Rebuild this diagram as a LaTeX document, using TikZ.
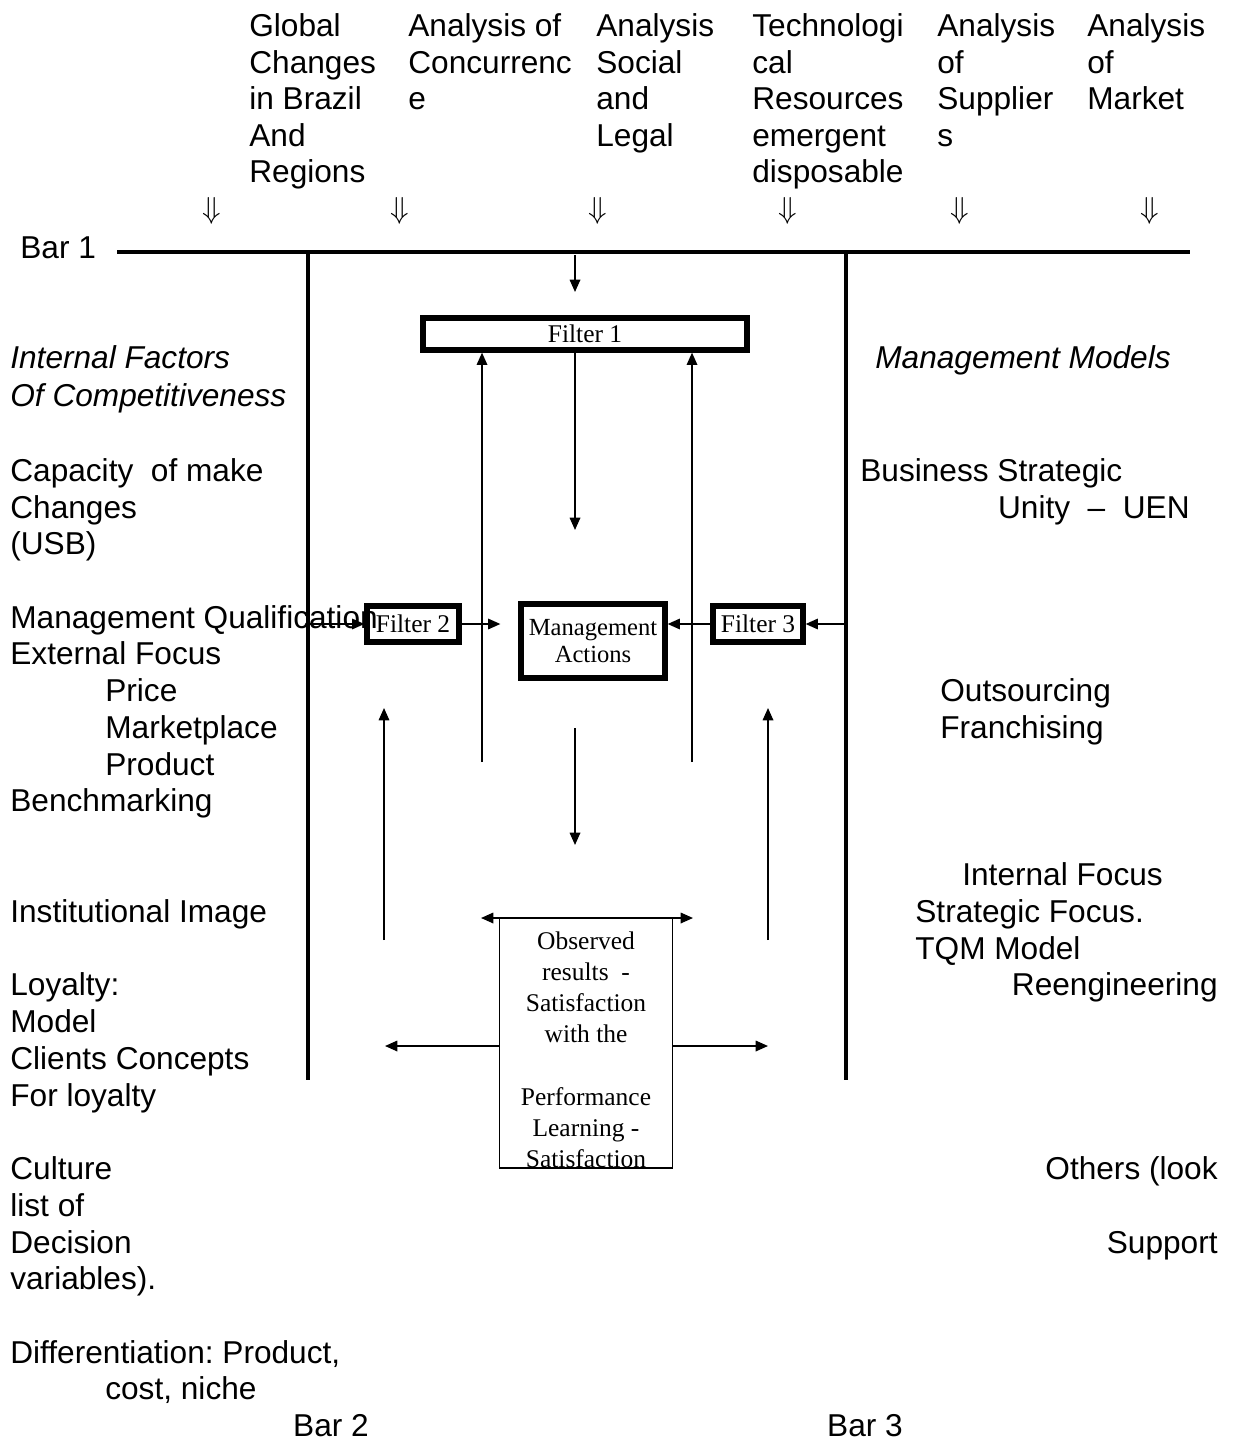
\documentclass[tikz,border=0pt]{standalone}
\usepackage{fontspec}
\setmainfont{Liberation Sans}
\newfontfamily\tnr{Liberation Serif}
\usetikzlibrary{arrows.meta,calc}
\frenchspacing
\tikzset{
  lbl/.style={anchor=base west,inner sep=0pt,font=\fontsize{18}{20.8}\selectfont},
  rlbl/.style={lbl,anchor=base east},
  boxtxt/.style={inner sep=0pt,font=\tnr\fontsize{14.5}{17.6}\selectfont},
  filt/.style={draw,line width=3pt,inner sep=0pt,boxtxt},
  bar/.style={line width=2.8pt},
  arr/.style={line width=0.9pt,-{Triangle[length=7pt,width=6pt]}},
  darr/.style={line width=0.9pt,{Triangle[length=7pt,width=6pt]}-{Triangle[length=7pt,width=6pt]}},
}

\begin{document}
\begin{tikzpicture}[x=0.02cm,y=-0.02cm]
\useasboundingbox (0,0) rectangle (1232,1442);

\foreach \xx/\lst [count=\i] in {249/{Global,Changes,in Brazil,And,Regions},408/{Analysis of,Concurrenc,e},596/{Analysis,Social,and,Legal},752/{Technologi,cal,Resources,emergent,disposable},937/{Analysis,of,Supplier,s},1087/{Analysis,of,Market}}
  \foreach \ln [count=\j] in \lst
    \node[lbl] (top\i-\j) at (\xx,{36.6*\j}) {\ln};
\foreach \xx [count=\i] in {212,400,598,788,960,1150}
  \node[inner sep=0pt] (dn\i) at (\xx,211) {\fontsize{16}{18}\selectfont$\Downarrow$};

\node[lbl] (bar1) at (20,259) {Bar 1};
\coordinate (b1w) at (117,252);
\coordinate (b1e) at (1190,252);
\coordinate (b2t) at (308,252);
\coordinate (b2b) at (308,1080);
\coordinate (b3t) at (846,252);
\coordinate (b3b) at (846,1080);
\draw[bar] (b1w) -- (b1e);
\draw[bar] (b2t) -- (b2b);
\draw[bar] (b3t) -- (b3b);
\node[lbl,anchor=base] (bar2) at (331,1436) {Bar 2};
\node[lbl,anchor=base] (bar3) at (865,1436) {Bar 3};

\node[filt,minimum width=6.48cm,minimum height=0.64cm] (f1) at (585,334) {Filter 1};
\node[filt,minimum width=2.88cm,minimum height=1.48cm,align=center,font=\tnr\fontsize{14}{15.5}\selectfont] (ma) at (593,641) {Management\\Actions};
\node[filt,minimum width=1.84cm,minimum height=0.72cm] (f2) at (413,624) {Filter 2};
\node[filt,minimum width=1.8cm,minimum height=0.72cm] (f3) at (758,624) {Filter 3};
\node[draw,line width=1pt,minimum width=3.46cm,minimum height=5cm,inner sep=0pt] (obs) at (586,1043) {};
\begin{scope}
\clip (obs.north west) rectangle (obs.south east);
\foreach \ln [count=\j] in {Observed,results~~-,Satisfaction,with the,{},Performance,Learning -,Satisfaction}
  \node[boxtxt,anchor=base] (obs\j) at (586,{918.5+31.1*\j}) {\ln};
\end{scope}

\coordinate (a1) at (575,255);
\coordinate (a1e) at (575,292);
\coordinate (a2e) at (575,530);
\coordinate (u1) at (482,762);
\coordinate (u2) at (692,762);
\coordinate (d1) at (575,728);
\coordinate (d1e) at (575,845);
\coordinate (v1) at (384,940);
\coordinate (v1e) at (384,708);
\coordinate (v2) at (768,940);
\coordinate (v2e) at (768,708);
\coordinate (t1) at (481,918);
\coordinate (t2) at (693,918);
\coordinate (l1) at (385,1046);
\coordinate (r1) at (768,1046);
\draw[arr] (a1) -- (a1e);
\draw[arr] (f1.south -| a2e) -- (a2e);
\draw[arr] (u1) -- (u1 |- f1.south);
\draw[arr] (u2) -- (u2 |- f1.south);
\draw[arr] (d1) -- (d1e);
\draw[arr] (v1) -- (v1e);
\draw[arr] (v2) -- (v2e);
\draw[darr] (t1) -- (t2);
\draw[arr] (obs.west |- l1) -- (l1);
\draw[arr] (obs.east |- r1) -- (r1);
\draw[arr] (b2t |- f2.west) -- (f2.west);
\draw[arr,shorten >=0.36cm] (f2.east) -- (ma.west |- f2.east);
\draw[arr] (f3.west) -- (ma.east |- f3.west);
\draw[arr] (b3t |- f3.east) -- (f3.east);

\node[lbl,font=\fontsize{18}{20.8}\selectfont\itshape] (ifc1) at (10,369) {Internal Factors};
\node[lbl,font=\fontsize{18}{20.8}\selectfont\itshape] (ifc2) at (10,406) {Of Competitiveness};
\node[lbl,font=\fontsize{18}{20.8}\selectfont\itshape] (mm) at (875,369) {Management Models};
\foreach \xx/\yy/\ln [count=\i] in {10/481/{Capacity~~of make},10/518/{Changes},10/554/{(USB)},10/628/{Management Qualification},10/664/{External Focus},105/701/{Price},105/738/{Marketplace},105/775/{Product},10/811/{Benchmarking},10/922/{Institutional Image},10/995/{Loyalty:},10/1032/{Model},10/1069/{Clients Concepts},10/1106/{For loyalty},10/1179/{Culture},10/1216/{list of},10/1253/{Decision},10/1289/{variables).},10/1363/{Differentiation: Product,},105/1399/{cost, niche}}
  \node[lbl] (lft\i) at (\xx,\yy) {\ln};
\foreach \xx/\yy/\ln [count=\i] in {860/481/{Business Strategic},940/701/{Outsourcing},940/738/{Franchising},962/885/{Internal Focus},915/922/{Strategic Focus.},915/959/{TQM Model}}
  \node[lbl] (rgt\i) at (\xx,\yy) {\ln};
\foreach \xx/\yy/\ln [count=\i] in {1190/518/{Unity~~--~~UEN},1218/995/{Reengineering},1218/1179/{Others (look},1218/1253/{Support}}
  \node[rlbl] (rr\i) at (\xx,\yy) {\ln};
\end{tikzpicture}
\end{document}
